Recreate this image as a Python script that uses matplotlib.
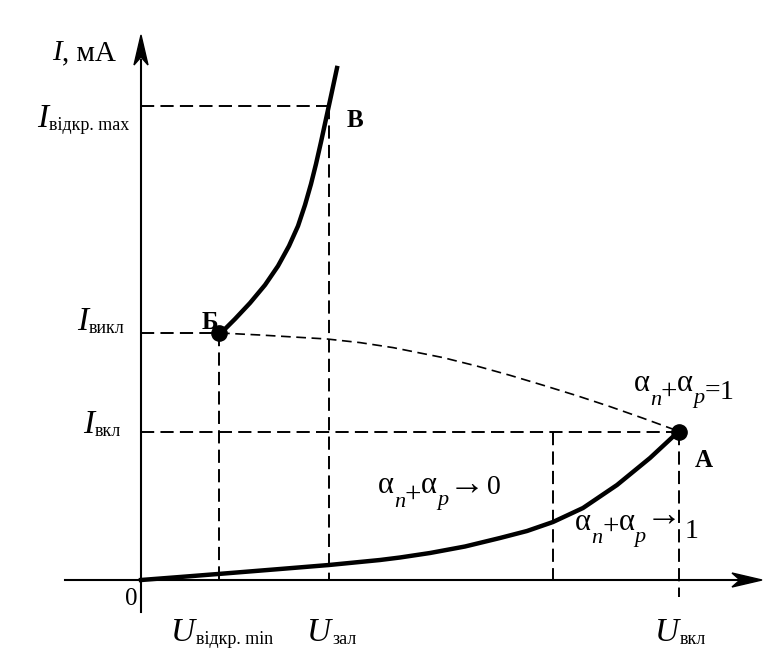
import numpy as np
import matplotlib.pyplot as plt
from matplotlib.patches import Polygon

plt.rcParams['lines.scale_dashes'] = False
SERIF = ['Liberation Serif', 'DejaVu Serif']

# characteristic values (arbitrary units, origin at 0)
U_open_min = 78
U_zal = 188
U_mid = 412
U_vkl = 538
I_vkl = 148
I_vykl = 247
I_max = 474

# forward branch, 0 -> A
U_low = [0, 39, 77, 139, 188, 239, 259, 289, 324, 359, 386, 412, 442, 476, 509, 537]
I_low = [0, 3, 6, 11, 15, 20, 22.5, 27, 33.5, 42, 49, 58, 72, 95, 122, 148]

# on-state branch, Б -> top
U_on = [80, 94, 109, 124, 137, 148, 157, 164, 170, 175, 180, 185, 190, 196]
I_on = [247, 261, 277, 295, 314, 334, 354, 375, 396, 416, 438, 461, 484, 512]

# negative resistance region, Б -> A (dashed)
U_neg = [79, 119, 186, 219, 252, 302, 336, 369, 402, 436, 469, 502, 537]
I_neg = [247, 245, 241, 237.4, 232.4, 222.4, 213.9, 204.7, 194.8, 184.3, 173.4, 161.8, 149]

fig = plt.figure(figsize=(7.7, 6.49), dpi=100)
ax = fig.add_axes([0, 0, 1, 1])
ax.set_xlim(-141, 629)
ax.set_ylim(-69, 580)
ax.axis('off')

# axes with arrows
ax.plot([-76, 600], [0, 0], color='black', lw=1.5)
ax.plot([0, 0], [-32, 520], color='black', lw=1.5)
tx, ty = 621, 545
ax.add_patch(Polygon([[tx, 0], [tx - 30, 7], [tx - 22, 0], [tx - 30, -7]],
                     closed=True, color='black'))
ax.add_patch(Polygon([[0, ty], [-7, ty - 30], [0, ty - 22], [7, ty - 30]],
                     closed=True, color='black'))

# dashed guide lines
dash = dict(color='black', lw=1.4, dashes=(9.5, 4.5))
ax.plot([0, U_zal], [I_max, I_max], **dash)
ax.plot([U_zal, U_zal], [I_max, 0], **dash)
ax.plot([0, U_open_min], [I_vykl, I_vykl], **dash)
ax.plot([U_open_min, U_open_min], [I_vykl, 0], **dash)
ax.plot([0, U_vkl], [I_vkl, I_vkl], **dash)
ax.plot([U_mid, U_mid], [I_vkl, 0], **dash)
ax.plot([U_vkl, U_vkl], [I_vkl, -17], **dash)

# characteristic curves
ax.plot(U_neg, I_neg, color='black', lw=1.2, dashes=(7, 4))
ax.plot(U_low, I_low, color='black', lw=3.2, solid_joinstyle='round')
ax.plot(U_on, I_on, color='black', lw=3.2, solid_joinstyle='round')
ax.plot([U_open_min, U_vkl], [I_vykl, I_vkl], 'o', color='black', ms=11)


def chain(x, y, pieces):
    """pieces: (text, size, style, dx, dy) with offsets in pixels,
    dy relative to the first piece's baseline"""
    first = ax.text(x, y, pieces[0][0], fontsize=pieces[0][1],
                    fontstyle=pieces[0][2], family=SERIF, va='baseline', ha='left')
    prev = first
    for txt, size, style, dx, dy in pieces[1:]:
        prev = ax.annotate(txt, xy=(1, y), xycoords=(prev, 'data'),
                           xytext=(dx, dy), textcoords='offset pixels',
                           fontsize=size, fontstyle=style, family=SERIF,
                           va='baseline', ha='left')


def sub_label(x, y, main, sub):
    chain(x, y, [(main, 24, 'italic', 0, 0), (sub, 13, 'normal', 1, -3)])


chain(-89, 520, [('I', 21, 'italic', 0, 0), (', мА', 21, 'normal', 0, 0)])
sub_label(-104, 453, 'I', 'відкр. max')
sub_label(-64, 250, 'I', 'викл')
sub_label(-58, 147, 'I', 'вкл')
sub_label(30, -61, 'U', 'відкр. min')
sub_label(166, -61, 'U', 'зал')
sub_label(514, -61, 'U', 'вкл')
ax.text(-9.5, -25, '0', fontsize=18, family=SERIF, ha='center', va='baseline')

bold = dict(fontsize=18, fontweight='bold', family=SERIF, va='baseline', ha='left')
ax.text(206, 453, 'В', **bold)
ax.text(61, 251, 'Б', **bold)
ax.text(554, 113, 'А', **bold)

chain(493, 189, [('α', 22, 'normal', 0, 0), ('n', 16, 'italic', 0, -14),
                 ('+', 21, 'normal', 0, -8), ('α', 22, 'normal', 0, 0),
                 ('p', 16, 'italic', 0, -12), ('=', 20, 'normal', 0, -7),
                 ('1', 20, 'normal', 0, -8)])
chain(237, 87, [('α', 22, 'normal', 0, 0), ('n', 16, 'italic', 0, -14),
                ('+', 21, 'normal', 0, -9), ('α', 22, 'normal', 0, 0),
                ('p', 16, 'italic', 0, -12), ('→', 26, 'normal', 0, -2),
                ('0', 20, 'normal', 3, -1)])
chain(434, 50, [('α', 22, 'normal', 0, 0), ('n', 16, 'italic', 0, -13),
                ('+', 21, 'normal', 0, -4), ('α', 22, 'normal', 0, 0),
                ('p', 16, 'italic', 0, -12), ('→', 26, 'normal', 0, 4),
                ('1', 20, 'normal', 3, -8)])

plt.savefig('out.png', dpi=100)
